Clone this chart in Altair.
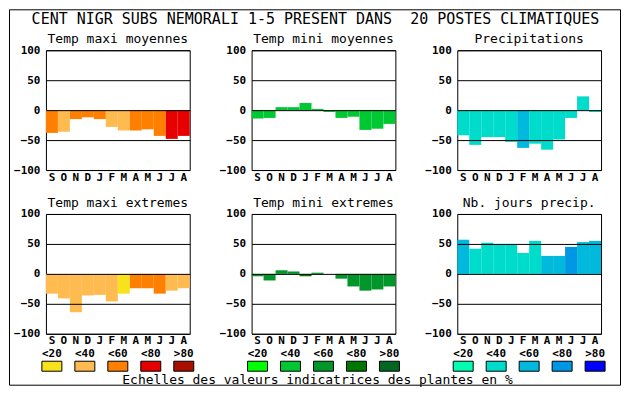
import altair as alt
import pandas as pd

MONO = "DejaVu Sans Mono"

main_title = "CENT NIGR SUBS NEMORALI 1-5 PRESENT DANS \u00a020 POSTES CLIMATIQUES"
caption = "Echelles des valeurs indicatrices des plantes en %"
months = ["S", "O", "N", "D", "J", "F", "M", "A", "M", "J", "J", "A"]
y_ticks = [-100, -50, 0, 50, 100]
legend_labels = ["<20", "<40", "<60", "<80", ">80"]

warm = ["#F8E21C", "#FFBA50", "#FF8000", "#E60000", "#A80F00"]
green = ["#00FF00", "#00C832", "#00962A", "#007800", "#006622"]
blue = ["#00FFB0", "#00DCCC", "#00B9DC", "#0096E6", "#0000FF"]

titles = ["Temp maxi moyennes", "Temp mini moyennes", "Precipitations",
          "Temp maxi extremes", "Temp mini extremes", "Nb. jours precip."]

tmax_moy = [-38, -36, -15, -12, -15, -28, -34, -34, -32, -43, -48, -43]
tmin_moy = [-14, -13, 5, 5, 12, 2, -3, -13, -11, -33, -31, -23]
precip = [-42, -58, -45, -45, -53, -63, -56, -66, -49, -13, 23, -3]
tmax_ext = [-33, -41, -64, -36, -35, -46, -33, -24, -24, -33, -28, -24]
tmin_ext = [-4, -11, 6, 4, -4, 2, 0, -8, -21, -28, -26, -21]
nb_jours = [57, 42, 52, 50, 50, 35, 55, 30, 30, 45, 53, 55]

cls_tmax_moy = [2, 1, 2, 2, 2, 1, 1, 2, 2, 2, 3, 3]
cls_tmin_moy = [1, 1, 1, 1, 1, 1, 1, 1, 1, 1, 1, 1]
cls_precip = [1, 1, 1, 1, 1, 2, 1, 1, 1, 1, 1, 1]
cls_tmax_ext = [1, 1, 1, 1, 1, 1, 0, 2, 2, 2, 1, 1]
cls_tmin_ext = [2, 2, 2, 2, 3, 2, 2, 2, 2, 2, 2, 2]
cls_nb_jours = [2, 1, 1, 1, 1, 1, 1, 2, 2, 3, 2, 2]

label_expr = "[" + ",".join("'%s'" % m for m in months) + "][datum.value]"


def panel(title, vals, cls, palette):
    df = pd.DataFrame({"i": list(range(len(vals))), "v": vals,
                       "c": [palette[k] for k in cls]})
    return alt.Chart(df).mark_bar().encode(
        x=alt.X("i:O", scale=alt.Scale(paddingInner=0, paddingOuter=0),
                axis=alt.Axis(labelExpr=label_expr, title=None, labelAngle=0,
                              grid=False, ticks=False, domain=False,
                              labelPadding=1)),
        y=alt.Y("v:Q", scale=alt.Scale(domain=[-100, 100], nice=False, zero=True),
                axis=alt.Axis(values=y_ticks, title=None, grid=True, ticks=False,
                              domain=False, labelPadding=6, zindex=1,
                              gridColor="black", gridOpacity=1, gridWidth=1)),
        color=alt.Color("c:N", scale=None),
    ).properties(
        width=144, height=120,
        title=alt.TitleParams(title, font=MONO, fontSize=13, fontWeight="normal",
                              color="black", anchor="middle", offset=-2),
    )


def legend(palette, extra=None):
    df = pd.DataFrame({"lab": legend_labels, "c": palette})
    x = alt.X("lab:N", sort=None, scale=alt.Scale(type="point", padding=0.18), axis=None)
    labels = alt.Chart(df).mark_text(
        font=MONO, fontSize=11, fontWeight="bold", color="black",
        align="center", baseline="middle"
    ).encode(x=x, y=alt.value(-24), text="lab:N")
    boxes = alt.Chart(df).mark_point(
        shape="M-1,-0.5L1,-0.5L1,0.5L-1,0.5Z", filled=True, size=400,
        stroke="black", strokeWidth=1, opacity=1
    ).encode(x=x, y=alt.value(-11.5), fill=alt.Color("c:N", scale=None))
    layers = [labels, boxes] + (extra or [])
    return alt.layer(*layers).properties(
        width=144, height=8, view=alt.ViewBackground(stroke="transparent"))


cap_df = pd.DataFrame({"t": [caption]})
title_df = pd.DataFrame({"t": [main_title]})
caption_text = alt.Chart(cap_df).mark_text(
    font=MONO, fontSize=13, align="center", baseline="middle", color="black"
).encode(text="t:N", x=alt.value(66), y=alt.value(2.5))
main_text = alt.Chart(title_df).mark_text(
    font=MONO, fontSize=15, align="center", baseline="middle", color="black"
).encode(text="t:N", x=alt.value(64), y=alt.value(-359))
frame = alt.Chart(cap_df).mark_rect(
    fill="white", fillOpacity=0, stroke="black", strokeWidth=1
).encode(x=alt.value(-242.5), x2=alt.value(369.5), y=alt.value(-368.5), y2=alt.value(7.5))

chart = alt.concat(
    panel(titles[0], tmax_moy, cls_tmax_moy, warm),
    panel(titles[1], tmin_moy, cls_tmin_moy, green),
    panel(titles[2], precip, cls_precip, blue),
    panel(titles[3], tmax_ext, cls_tmax_ext, warm),
    panel(titles[4], tmin_ext, cls_tmin_ext, green),
    panel(titles[5], nb_jours, cls_nb_jours, blue),
    legend(warm),
    legend(green, extra=[frame, main_text, caption_text]),
    legend(blue),
    columns=3, spacing={"row": 44, "column": 62}, bounds="flush"
).configure(
    padding=0, background="white"
).configure_view(
    stroke="black", strokeWidth=1
).configure_axis(
    labelFont=MONO, labelFontSize=11, labelFontWeight="bold", labelColor="black"
)

chart.save("out.html", embed_options={"renderer": "svg", "actions": False})
